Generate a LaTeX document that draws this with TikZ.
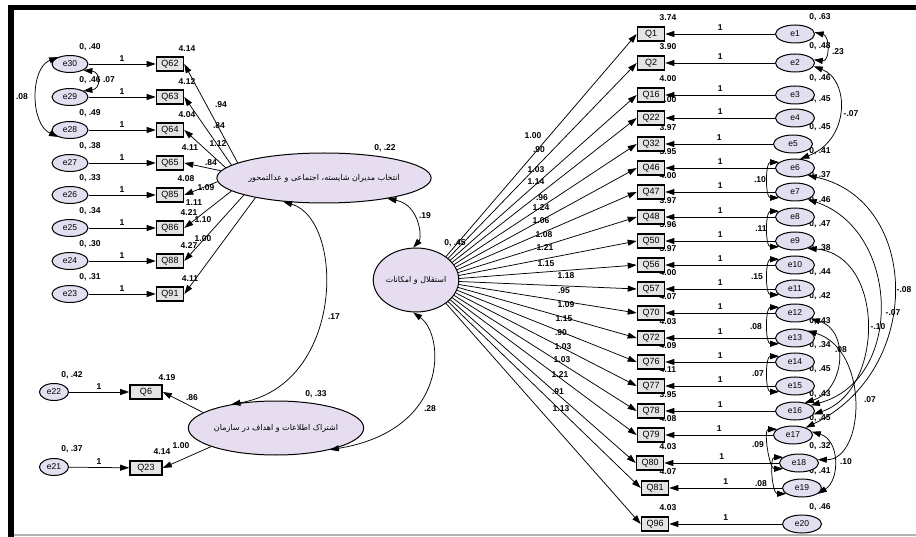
\documentclass[tikz,border=0pt]{standalone}
\usepackage{fontspec}
\setmainfont{Liberation Sans}
\newfontfamily\fa[Script=Arabic]{DejaVu Sans}
\TeXXeTstate=1
\usetikzlibrary{arrows.meta,shapes.geometric}
\definecolor{latfill}{HTML}{E6DDF0}
\definecolor{errfill}{HTML}{E2DFF0}
\definecolor{obsfill}{HTML}{E4E4E4}
\begin{document}
\begin{tikzpicture}[x=1pt,y=-1pt,
  lab/.style={font=\bfseries\fontsize{8.5}{9}\selectfont, inner sep=0},
  err/.style={ellipse, draw, line width=1pt, fill=errfill, minimum width=39, minimum height=18, inner sep=0, font=\fontsize{8.5}{9}\selectfont},
  obs/.style={rectangle, draw, line width=1.6pt, fill=obsfill, minimum width=27, minimum height=14, inner sep=0, font=\fontsize{9}{10}\selectfont},
  lat/.style={ellipse, draw, line width=1pt, fill=latfill, inner sep=0, font=\fa\fontsize{8}{9}\selectfont},
  arr/.style={line width=0.75pt, -{Triangle[length=9pt,width=6pt]}},
  cov/.style={line width=0.75pt, {Triangle[length=9pt,width=6pt]}-{Triangle[length=9pt,width=6pt]}}]
\useasboundingbox (0,0) rectangle (916,537);
% frame
\fill[black] (8,5) rectangle (14,537);
\fill[black] (8,5) rectangle (916,10);
\fill[gray!60] (14,533.5) rectangle (916,535.5);

% ---------- left cluster labels ----------
\foreach \e/\q/\y/\v/\ic/\icx in {30/62/64/.40/4.14/187, 29/63/97/.46/4.12/187, 28/64/130/.49/4.04/187, 27/65/163/.38/4.11/190, 25/86/228/.34/4.21/189, 24/88/261/.30/4.27/189, 23/91/294/.31/4.11/190}{
  \node[lab] at (90,\y-17) {0, \v};
  \node[lab] at (\icx,\y-15) {\ic};
}
\node[lab] at (90,178) {0, .33};
\node[lab] at (186,179) {4.08};
\foreach \l/\lx/\ly in {.94/221/105, .84/219/126, 1.12/218/144, .84/211/163, 1.09/206/188, 1.11/194/203, 1.10/203/220, 1.00/203/239}{
  \node[lab] at (\lx,\ly) {\l};
}
% bottom-left labels
\node[lab] at (72,375) {0, .42};
\node[lab] at (72,449) {0, .37};
\node[lab] at (167,378) {4.19};
\node[lab] at (192,398) {.86};
\node[lab] at (162,452) {4.14};
\node[lab] at (181,446) {1.00};
% latent labels
\node[lab] at (385,148) {0, .22};
\node[lab] at (455,243) {0, .45};
\node[lab] at (316,394) {0, .33};
\node[lab] at (425,216) {.19};
\node[lab] at (334,317) {.17};
\node[lab] at (430,409) {.28};
\node[lab] at (22,97) {.08};
\node[lab] at (109,80) {.07};

% right side labels
\foreach \y/\ic/\ev in {34/3.74/.63, 63/3.90/.48, 95/4.00/.46, 116/4.00/.45, 144/3.97/.45, 168/3.95/.41, 192/4.00/.37, 217/3.97/.46, 241/3.96/.47, 265/3.97/.38, 289/4.00/.44, 313/4.07/.42, 338/4.03/.43, 362/4.09/.34, 386/4.11/.45, 411/3.95/.43, 435/4.08/.45, 463/4.03/.32, 488/4.07/.41, 524/4.03/.46}{
  \node[lab] at (668,\y-16) {\ic};
  \node[lab] at (820,\y-17) {0, \ev};
}
\foreach \l/\lx/\ly in {1.00/533/136, .90/539/150, 1.03/536/170, 1.14/536/182, .96/542/198, 1.24/541/208, 1.06/541/221, 1.08/544/235, 1.21/545/248, 1.15/546/264, 1.18/566/276, .95/564/291, 1.09/566/305, 1.15/564/319, .90/561/333, 1.03/563/347, 1.03/562/360, 1.21/560/375, .91/558/392, 1.13/561/409}{
  \node[lab] at (\lx,\ly) {\l};
}
\foreach \l/\lx/\ly in {.23/838/52, -.07/851/114, .10/760/180, .11/761/229, .15/757/277, .08/756/327, .07/758/374, .09/758/445, .08/761/484, .10/846/462, -.08/904/290, -.07/893/313, -.10/878/327, .08/841/350, .07/870/400}{
  \node[lab] at (\lx,\ly) {\l};
}

% ---------- latent variables ----------
\node[lat, minimum width=208, minimum height=50] (L1) at (324,178) {\beginR انتخاب مدیران شایسته، اجتماعی و عدالتمحور\endR};
\node[lat, minimum width=80, minimum height=64] (L2) at (416,280) {\beginR استقلال و امکانات\endR};
\node[lat, minimum width=150, minimum height=54] (L3) at (276,428) {\beginR اشتراک اطلاعات و اهداف در سازمان\endR};

% ---------- left cluster nodes ----------
\foreach \e/\q/\y in {30/62/64, 29/63/97, 28/64/130, 27/65/163, 26/85/195, 25/86/228, 24/88/261, 23/91/294}{
  \node[err, minimum width=36, minimum height=17] (e\e) at (70,\y) {e\e};
  \node[obs] (Q\q) at (170,\y) {Q\q};
  \draw[arr] (e\e) -- node[lab, above=2.5pt]{1} (Q\q);
}
\foreach \q/\a in {62/170, 63/172, 64/174, 65/176, 85/182, 86/188, 88/192, 91/196}{
  \draw[arr] (L1.\a) -- (Q\q.east);
}
\draw[cov] (e30.150) .. controls (30,68) and (30,124) .. (e28.210);
\draw[cov] (e30.-25) .. controls (101,72) and (101,89) .. (e29.25);

% bottom-left
\node[err, minimum width=29, minimum height=17] (e22) at (54,392) {e22};
\node[err, minimum width=29, minimum height=17] (e21) at (54,467) {e21};
\node[obs, minimum width=32, minimum height=14] (Q6) at (146,392) {Q6};
\node[obs, minimum width=32, minimum height=14] (Q23) at (146,468) {Q23};
\draw[arr] (e22) -- node[lab, above=2.5pt]{1} (Q6);
\draw[arr] (e21) -- node[lab, above=2.5pt]{1} (Q23);
\draw[arr] (L3.168) -- (Q6.east);
\draw[arr] (L3.196) -- (Q23.east);

% latent covariances
\draw[cov] (L1.-18) .. controls (420,205) and (422,238) .. (L2.95);
\draw[cov] (L1.-150) .. controls (345,220) and (345,385) .. (L3.152);
\draw[cov] (L2.-95) .. controls (445,335) and (450,430) .. (L3.-22);

% ---------- right cluster ----------
\foreach \q/\e/\y/\ex/\qx in {1/1/34/795/651, 2/2/63/795/651, 16/3/95/795/651, 22/4/118/795/651, 32/5/144/793/651, 46/6/168/795/651, 47/7/192/795/651, 48/8/217/795/651, 50/9/241/795/651, 56/10/265/795/651, 57/11/289/795/651, 70/12/313/795/651, 72/13/338/795/651, 76/14/362/795/651, 77/15/386/795/651, 78/16/411/795/651, 79/17/435/793/651, 80/18/463/799/650, 81/19/488/802/655, 96/20/524/802/655}{
  \node[err] (e\e) at (\ex,\y) {e\e};
  \node[obs] (Q\q) at (\qx,\y) {Q\q};
  \draw[arr] (e\e) -- node[lab, above=3pt]{1} (Q\q);
}
\foreach \q/\a in {1/38, 2/34, 16/30, 22/26, 32/22, 46/18, 47/14, 48/10, 50/6, 56/2, 57/-2, 70/-6, 72/-10, 76/-14, 77/-18, 78/-22, 79/-26, 80/-30, 81/-34, 96/-38}{
  \draw[arr] (L2.\a) -- (Q\q.west);
}
% error covariances, right
\foreach \a/\b in {6/7, 8/9, 10/11, 12/13, 14/15, 17/18, 18/19}{
  \draw[cov] (e\a.160) .. controls ([xshift=-14pt]e\a.160) and ([xshift=-14pt]e\b.200) .. (e\b.200);
}
\draw[cov] (e1.5) .. controls (830,36) and (830,62) .. (e2.10);
\draw[cov] (e2.-10) .. controls (850,80) and (850,140) .. (e6.60);
\draw[cov] (e17.10) .. controls (840,440) and (840,480) .. (e19.-20);
\draw[cov] (e6.-30) .. controls (920,200) and (925,370) .. (e17.30);
\draw[cov] (e7.-30) .. controls (900,230) and (905,380) .. (e16.20);
\draw[cov] (e9.-30) .. controls (885,255) and (885,390) .. (e16.-10);
\draw[cov] (e12.-20) .. controls (850,330) and (845,390) .. (e16.40);
\draw[cov] (e13.30) .. controls (870,350) and (865,460) .. (e18.10);
\end{tikzpicture}
\end{document}
